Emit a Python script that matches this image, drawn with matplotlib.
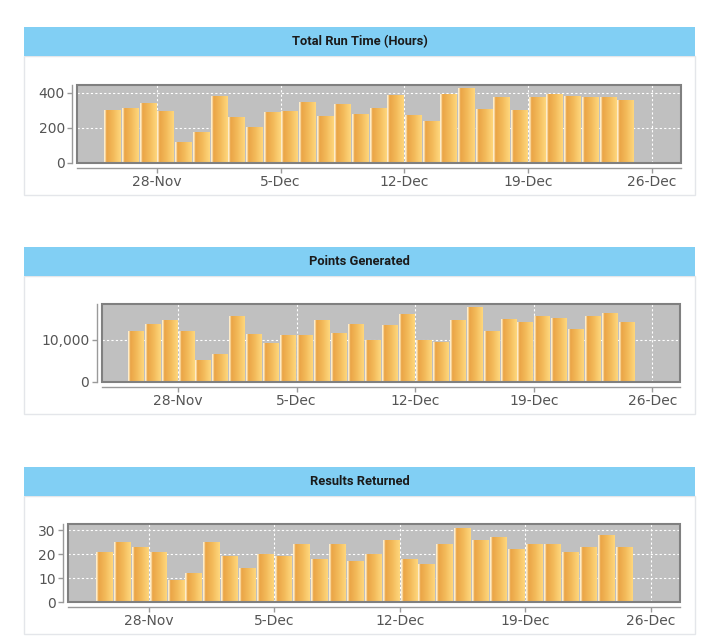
import numpy as np
import pandas as pd
import matplotlib
matplotlib.use("Agg")
import matplotlib.pyplot as plt
import matplotlib.dates as mdates
from matplotlib.patches import Rectangle
from matplotlib.colors import LinearSegmentedColormap
from matplotlib.ticker import FuncFormatter, FixedLocator

# daily data, 25-Nov .. 24-Dec
days = pd.date_range("2015-11-25", periods=30, freq="D")
run_hours = [299, 312, 341, 297, 120, 175, 379, 259, 202, 288,
             295, 347, 267, 335, 280, 311, 389, 270, 238, 394,
             427, 309, 375, 301, 377, 392, 379, 373, 377, 356]
points = [12230, 13740, 14690, 12230, 5320, 6590, 15800, 11350, 9210, 11270,
          11270, 14690, 11590, 13900, 10000, 13580, 16280, 10000, 9610, 14690,
          17870, 12070, 15090, 14210, 15800, 15250, 12550, 15720, 16360, 14210]
results = [21, 25, 23, 21, 9, 12, 25, 19, 14, 20,
           19, 24, 18, 24, 17, 20, 26, 18, 16, 24,
           31, 26, 27, 22, 24, 24, 21, 23, 28, 23]

titles = ["Total Run Time (Hours)", "Points Generated", "Results Returned"]
yticks = [[0, 200, 400], [0, 10000], [0, 10, 20, 30]]
ytops = [446, 18570, 32.4]
tick_dates = pd.to_datetime(["2015-11-28", "2015-12-05", "2015-12-12",
                             "2015-12-19", "2015-12-26"])

W, H = 716, 642
fig = plt.figure(figsize=(W / 100, H / 100), dpi=100)
fig.patch.set_facecolor("white")

bar_cmap = LinearSegmentedColormap.from_list(
    "bar", [(0.0, "#fff3da"), (0.07, "#fbe0ae"), (0.14, "#eaa446"),
            (0.55, "#f3ba5a"), (1.0, "#fed77d")])
grad = np.linspace(0, 1, 64).reshape(1, -1)


def fx(px):
    return px / W


def fy(py):
    return 1 - py / H


# panel boxes: (band top, band bottom, box bottom)
panels = [(27.5, 55.5, 194.5), (247, 276, 414), (467, 495.5, 633.5)]
# plot areas in pixels: left, top, right, bottom
plots = [(77.3, 84.7, 680.7, 162.7), (101.7, 304, 680, 382), (68.3, 524.3, 680, 602)]
series = [run_hours, points, results]

for i in range(3):
    bt, bb, boxb = panels[i]
    fig.patches.append(Rectangle((fx(24), fy(boxb)), fx(695) - fx(24), fy(bb) - fy(boxb),
                                 transform=fig.transFigure, facecolor="white",
                                 edgecolor="#e4e6ea", lw=1, zorder=-10))
    fig.patches.append(Rectangle((fx(24), fy(bb)), fx(695) - fx(24), fy(bt) - fy(bb),
                                 transform=fig.transFigure, facecolor="#81cff4",
                                 edgecolor="none", zorder=-9))
    fig.text(fx(359.5), fy((bt + bb) / 2), titles[i], ha="center", va="center",
             fontsize=9.3, fontweight="bold", family=["Roboto", "DejaVu Sans"], color="#1a1a1a")

    l, t, r, b = plots[i]
    ax = fig.add_axes([fx(l), fy(b), fx(r) - fx(l), fy(t) - fy(b)])
    ax.set_facecolor("#c0c0c0")
    ax.set_axisbelow(True)

    bars = ax.bar(days + pd.Timedelta(hours=12), series[i], width=0.93,
                  color="#f0b252", edgecolor="none", zorder=2)
    for p in bars:
        x0 = p.get_x()
        im = ax.imshow(grad, cmap=bar_cmap, aspect="auto", zorder=3,
                       extent=[x0, x0 + p.get_width(), 0, p.get_height()],
                       interpolation="bilinear")
        im.set_clip_path(p)

    ax.set_xlim(mdates.date2num(pd.Timestamp("2015-11-23 12:00")),
                mdates.date2num(pd.Timestamp("2015-12-27 15:00")))
    ax.set_ylim(0, ytops[i])
    ax.xaxis.set_major_locator(FixedLocator(mdates.date2num(tick_dates)))
    ax.xaxis.set_major_formatter(FuncFormatter(
        lambda v, pos: "{}-{}".format(mdates.num2date(v).day, mdates.num2date(v).strftime("%b"))))
    ax.set_yticks(yticks[i])
    ax.yaxis.set_major_formatter(FuncFormatter(lambda v, pos: "{:,.0f}".format(v)))

    ax.grid(True, color="white", lw=0.8, ls=(0, (2, 2)))

    for s in ["top", "right"]:
        ax.spines[s].set_visible(False)
    for s in ["left", "bottom"]:
        ax.spines[s].set_position(("outward", 3.5))
        ax.spines[s].set_color("#9a9a9a")
        ax.spines[s].set_linewidth(1.0)
    ax.add_patch(Rectangle((0, 0), 1, 1, transform=ax.transAxes, fill=False,
                           edgecolor="#808080", lw=1.5, zorder=5, clip_on=False))

    ax.tick_params(axis="both", colors="#9a9a9a", labelcolor="#555555",
                   labelsize=10, length=3.5, width=1.0)
    ax.tick_params(axis="x", pad=1.5)
    ax.tick_params(axis="y", pad=2)

fig.savefig("out.png", dpi=100, facecolor="white")
